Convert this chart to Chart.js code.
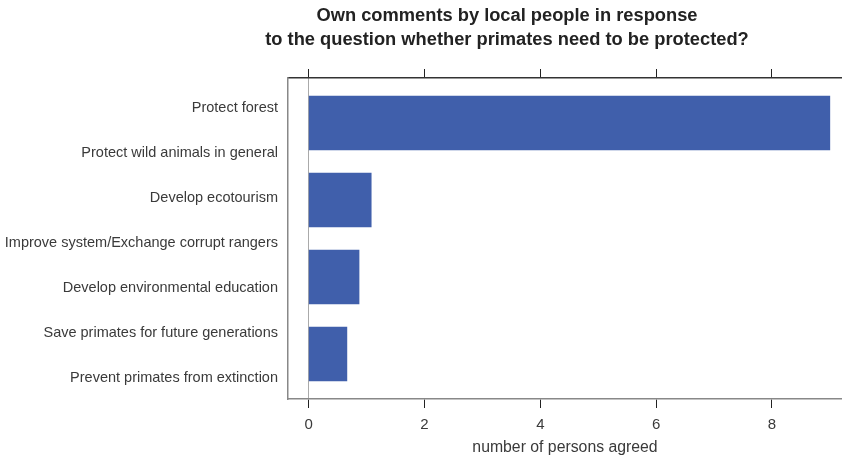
<!DOCTYPE html>
<html>
<head>
<meta charset="utf-8">
<script src="https://cdn.jsdelivr.net/npm/chart.js@4"></script>
<style>
  body { margin: 0; background: #fff; }
  #wrap { position: relative; width: 842px; height: 459px; }
  #title {
    position: absolute; top: 3px; left: 207px; width: 600px;
    text-align: center; font: bold 18.3px "Liberation Sans", Arial, sans-serif;
    line-height: 24px; color: #222;
  }
</style>
</head>
<body>
<div id="wrap">
  <div id="title">Own comments by local people in response<br>to the question whether primates need to be protected?</div>
  <canvas id="chart" width="842" height="459"></canvas>
</div>
<script>
// categories shown on the left axis
const commentLabels = [
    'Protect forest',
    'Protect wild animals in general',
    'Develop ecotourism',
    'Improve system/Exchange corrupt rangers',
    'Develop environmental education',
    'Save primates for future generations',
    'Prevent primates from extinction'
];
// bar lengths (number of persons agreed)
const barValues = [9, 1.08, 0.87, 0.66];
const xTickValues = [0, 2, 4, 6, 8];
const xAxisTitle = 'number of persons agreed';

const family = '"Liberation Sans", Arial, sans-serif';

new Chart(document.getElementById('chart'), {
    type: 'bar',
    data: {
        datasets: [{
            data: barValues.map((v, i) => ({ x: v, y: i })),
            backgroundColor: '#405fab',
            barThickness: 54,
            xAxisID: 'x',
            yAxisID: 'y'
        }]
    },
    options: {
        indexAxis: 'y',
        responsive: false,
        animation: false,
        layout: { padding: { top: 69, left: 0, right: 0, bottom: 0 } },
        plugins: { legend: { display: false }, tooltip: { enabled: false } },
        scales: {
            x: {
                type: 'linear',
                position: 'bottom',
                offset: false,
                min: -0.357,
                max: 9.21,
                afterBuildTicks: s => { s.ticks = xTickValues.map(v => ({ value: v })); },
                afterFit: s => { s.height = 60; },
                grid: {
                    offset: false,
                    color: c => (c.tick && c.tick.value === 0 ? '#aaa' : 'rgba(0,0,0,0)'),
                    tickColor: '#222',
                    tickLength: 9
                },
                border: { color: '#888', width: 1.5 },
                ticks: { font: { family, size: 15 }, color: '#3a3a3a', padding: 8 },
                title: { display: true, text: xAxisTitle, font: { family, size: 15.8 }, color: '#3a3a3a', padding: { top: 4, bottom: 2 } }
            },
            x2: {
                type: 'linear',
                position: 'top',
                offset: false,
                min: -0.357,
                max: 9.21,
                afterBuildTicks: s => { s.ticks = xTickValues.map(v => ({ value: v })); },
                grid: { offset: false, drawOnChartArea: false, tickColor: '#222', tickLength: 9 },
                border: { color: '#333', width: 1.5 },
                ticks: { display: false }
            },
            y: {
                type: 'linear',
                display: false,
                offset: false,
                grid: { offset: false },
                reverse: true,
                min: -0.584,
                max: 3.584
            },
            y2: {
                type: 'linear',
                position: 'left',
                offset: false,
                reverse: true,
                min: -0.66,
                max: -0.66 + 321 / 45,
                afterBuildTicks: s => { s.ticks = commentLabels.map((_, i) => ({ value: i })); },
                afterFit: s => { s.width = 288; },
                grid: { display: false, offset: false, drawTicks: false, tickLength: 0 },
                border: { color: '#888', width: 1.5 },
                ticks: {
                    font: { family, size: 14.5 },
                    color: '#3a3a3a',
                    padding: 10,
                    callback: v => commentLabels[v]
                }
            }
        }
    }
});
</script>
</body>
</html>
